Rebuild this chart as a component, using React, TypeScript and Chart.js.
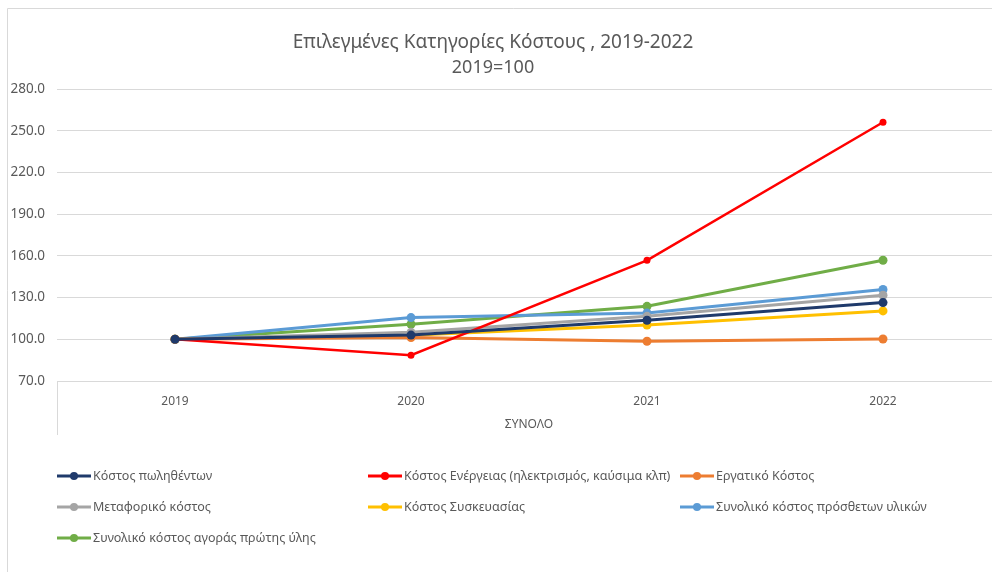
import React, { useEffect, useRef } from "react";
import { Chart, registerables } from "chart.js";

Chart.register(...registerables);

const years = ["2019", "2020", "2021", "2022"];
const groupLabel = "ΣΥΝΟΛΟ";
const titleLines = ["Επιλεγμένες Κατηγορίες Κόστους , 2019-2022", "2019=100"];

const seriesNames = [
  "Κόστος πωληθέντων",
  "Κόστος Ενέργειας (ηλεκτρισμός, καύσιμα κλπ)",
  "Εργατικό Κόστος",
  "Μεταφορικό κόστος",
  "Κόστος Συσκευασίας",
  "Συνολικό κόστος πρόσθετων υλικών",
  "Συνολικό κόστος αγοράς πρώτης ύλης",
];

const costOfSales = [100, 103, 113.7, 126.4];
const energyCost = [100, 88.5, 156.8, 256.1];
const labourCost = [100, 101.2, 98.6, 100.2];
const transportCost = [100, 105, 116.5, 131.7];
const packagingCost = [100, 102.9, 110.3, 120.4];
const additionalMaterials = [100, 115.6, 118.9, 135.8];
const rawMaterials = [100, 110.8, 123.7, 156.8];

const seriesValues = [
  costOfSales,
  energyCost,
  labourCost,
  transportCost,
  packagingCost,
  additionalMaterials,
  rawMaterials,
];

const colors = ["#1F3A6B", "#FF0000", "#ED7D31", "#A5A5A5", "#FFC000", "#5B9BD5", "#70AD47"];

const FONT = "'Noto Sans', 'DejaVu Sans', sans-serif";
const TEXT = "#595959";
const GRID = "#d9d9d9";

const CW = 1012;
const CH = 564;

export default function App() {
  const ref = useRef<HTMLCanvasElement | null>(null);

  useEffect(() => {
    if (!ref.current) return;
    const overlay = {
      id: "overlay",
      afterDraw(chart: any) {
        const ctx = chart.ctx as CanvasRenderingContext2D;
        const a = chart.chartArea;
        ctx.save();
        // frame
        ctx.strokeStyle = GRID;
        ctx.lineWidth = 1;
        ctx.beginPath();
        ctx.moveTo(0.5, CH);
        ctx.lineTo(0.5, 0.5);
        ctx.lineTo(CW, 0.5);
        ctx.stroke();
        // category group separators
        ctx.beginPath();
        ctx.moveTo(Math.round(a.left) + 0.5, a.bottom);
        ctx.lineTo(Math.round(a.left) + 0.5, a.bottom + 54);
        ctx.moveTo(Math.round(a.right) - 0.5, a.bottom);
        ctx.lineTo(Math.round(a.right) - 0.5, a.bottom + 54);
        ctx.stroke();
        // group label
        ctx.fillStyle = TEXT;
        ctx.font = `12px ${FONT}`;
        ctx.textAlign = "center";
        ctx.textBaseline = "middle";
        ctx.fillText(groupLabel, (a.left + a.right) / 2, a.bottom + 44);
        // title
        ctx.font = `19px ${FONT}`;
        ctx.fillText(titleLines[0], 486, 35);
        ctx.font = `18px ${FONT}`;
        ctx.fillText(titleLines[1], 486, 60);
        // legend
        const colX = [50, 361, 673];
        const rowY = [468, 499, 530];
        ctx.font = `12.5px ${FONT}`;
        ctx.textAlign = "left";
        chart.data.datasets.forEach((ds: any, i: number) => {
          const x = colX[i % 3];
          const y = rowY[Math.floor(i / 3)];
          ctx.strokeStyle = ds.borderColor;
          ctx.lineWidth = 3;
          ctx.beginPath();
          ctx.moveTo(x, y);
          ctx.lineTo(x + 34, y);
          ctx.stroke();
          ctx.fillStyle = ds.borderColor;
          ctx.beginPath();
          ctx.arc(x + 17, y, 4, 0, Math.PI * 2);
          ctx.fill();
          ctx.fillStyle = TEXT;
          ctx.fillText(ds.label, x + 36, y);
        });
        ctx.restore();
      },
    };

    const chart = new Chart(ref.current, {
      type: "line",
      data: {
        labels: years,
        datasets: seriesNames.map((name, i) => ({
          label: name,
          data: seriesValues[i],
          borderColor: colors[i],
          backgroundColor: colors[i],
          borderWidth: i === 1 ? 2.5 : 3,
          pointRadius: i === 1 ? 3.5 : 4.5,
          pointBorderWidth: 0,
          pointBackgroundColor: colors[i],
          tension: 0,
          fill: false,
        })),
      },
      options: {
        animation: false,
        responsive: false,
        maintainAspectRatio: false,
        layout: { padding: { left: 0, top: 81, right: 18, bottom: 0 } },
        plugins: {
          legend: { display: false },
          title: { display: false },
          tooltip: { enabled: false },
        },
        scales: {
          x: {
            offset: true,
            grid: { display: false, drawTicks: false },
            border: { display: true, color: GRID },
            ticks: { color: TEXT, font: { family: FONT, size: 12 }, padding: 13 },
            afterFit: (s: any) => {
              s.height = 191;
            },
          },
          y: {
            min: 70,
            max: 280,
            grid: { color: GRID, drawTicks: false },
            border: { display: false },
            ticks: {
              stepSize: 30,
              color: TEXT,
              padding: 12,
              font: { family: FONT, size: 13.5 },
              callback: (v: any) => Number(v).toFixed(1),
            },
            afterFit: (s: any) => {
              s.width = 50;
            },
          },
        },
      },
      plugins: [overlay],
    });
    return () => chart.destroy();
  }, []);

  return (
    <div
      style={{
        position: "fixed",
        left: 0,
        top: 0,
        width: 992,
        height: 572,
        overflow: "hidden",
        background: "#fff",
      }}
    >
      <canvas
        ref={ref}
        width={CW}
        height={CH}
        style={{ position: "absolute", left: 7, top: 8, width: CW, height: CH }}
      />
    </div>
  );
}
